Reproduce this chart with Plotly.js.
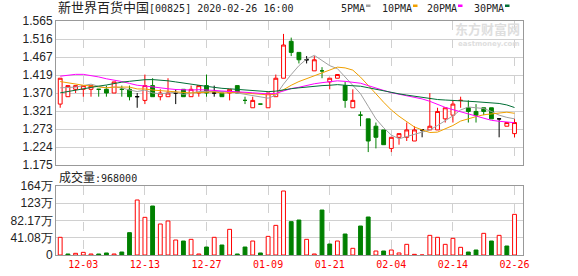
<!DOCTYPE html>
<html><head><meta charset="utf-8">
<script src="https://cdn.plot.ly/plotly-3.0.1.min.js"></script>
<style>html,body{margin:0;padding:0;background:#fff}#chart{width:578px;height:276px}</style>
</head><body><div id="chart"></div>
<script>
// ---------------- data ----------------
const stockName = '新世界百货中国';
const stockCode = '00825';
const stamp = '2020-02-26 16:00';
const dates = ['11-28','11-29','12-02','12-03','12-04','12-05','12-06','12-09','12-10','12-11',
  '12-12','12-13','12-16','12-17','12-18','12-19','12-20','12-23','12-24','12-27',
  '12-30','12-31','01-02','01-03','01-06','01-07','01-08','01-09','01-10','01-13',
  '01-14','01-15','01-16','01-17','01-20','01-21','01-22','01-23','01-24','01-29',
  '01-30','01-31','02-03','02-04','02-05','02-06','02-07','02-10','02-11','02-12',
  '02-13','02-14','02-17','02-18','02-19','02-20','02-21','02-24','02-25','02-26'];
const tickDates = ['12-03','12-13','12-27','01-09','01-21','02-04','02-14','02-26'];
const openP = [1.34,1.36,1.38,1.38,1.38,1.38,1.38,1.37,1.38,1.38,
  1.36,1.35,1.39,1.36,1.36,1.37,1.38,1.36,1.37,1.39,
  1.37,1.37,1.37,1.39,1.35,1.33,1.34,1.33,1.36,1.41,
  1.51,1.48,1.46,1.43,1.43,1.40,1.41,1.39,1.33,1.31,
  1.30,1.28,1.27,1.22,1.25,1.25,1.24,1.27,1.27,1.27,
  1.30,1.31,1.35,1.33,1.32,1.33,1.33,1.30,1.28,1.26];
const highP = [1.41,1.39,1.39,1.39,1.39,1.38,1.39,1.40,1.39,1.39,
  1.37,1.42,1.41,1.38,1.41,1.38,1.38,1.39,1.39,1.42,
  1.39,1.37,1.38,1.39,1.36,1.36,1.34,1.37,1.42,1.53,
  1.52,1.48,1.47,1.47,1.44,1.41,1.42,1.40,1.38,1.32,
  1.30,1.29,1.27,1.25,1.26,1.29,1.28,1.27,1.37,1.33,
  1.33,1.35,1.36,1.35,1.34,1.33,1.33,1.30,1.29,1.30];
const lowP = [1.33,1.36,1.37,1.36,1.36,1.36,1.36,1.37,1.36,1.35,
  1.33,1.34,1.36,1.35,1.36,1.34,1.36,1.36,1.36,1.36,
  1.36,1.36,1.35,1.37,1.34,1.33,1.34,1.33,1.36,1.41,
  1.47,1.45,1.45,1.43,1.41,1.38,1.41,1.33,1.33,1.28,
  1.21,1.22,1.23,1.21,1.23,1.24,1.24,1.25,1.27,1.27,
  1.29,1.29,1.33,1.29,1.29,1.31,1.30,1.25,1.28,1.25];
const closeP = [1.41,1.39,1.39,1.39,1.39,1.38,1.37,1.40,1.38,1.36,
  1.36,1.39,1.36,1.37,1.37,1.37,1.36,1.38,1.39,1.37,
  1.37,1.36,1.38,1.37,1.35,1.35,1.34,1.37,1.41,1.50,
  1.48,1.46,1.46,1.46,1.43,1.41,1.42,1.35,1.35,1.31,
  1.24,1.25,1.23,1.25,1.26,1.27,1.27,1.27,1.28,1.32,
  1.33,1.34,1.35,1.32,1.31,1.32,1.30,1.30,1.29,1.29];
// closes of the 29 sessions before the first candle (estimated from the MA lines)
const priorCloses = [1.27,1.28,1.27,1.28,1.29,1.28,1.27,1.28,1.29,1.29,
  1.33,1.35,1.39,1.45,1.46,1.47,1.46,1.47,1.46,1.46,
  1.43,1.42,1.42,1.41,1.41,1.39,1.38,1.37,1.37];
const volume = [421000,24000,40000,63000,24000,24000,48000,24000,71000,532000,
  1310000,897000,1167000,738000,810000,357000,333000,373000,24000,190000,
  421000,238000,611000,24000,190000,333000,48000,444000,706000,1524000,
  794000,833000,373000,24000,1071000,262000,333000,500000,159000,690000,
  905000,95000,95000,119000,48000,254000,16000,0,468000,421000,
  254000,397000,183000,71000,119000,516000,333000,468000,214000,968000];
const maPeriods = [5,10,20,30];
const maNames = ['5PMA','10PMA','20PMA','30PMA'];
const priceTickLabels = ['1.175','1.224','1.273','1.321','1.370','1.419','1.467','1.516','1.565'];
const priceRange = [1.175,1.565];
const volTickLabels = ['0','41.08万','82.17万','123万','164万'];
const volMax = 1643300;

// ---------------- styles ----------------
const RED='#ff0000', GREEN='#008000', BLACK='#000000';
const maColors = ['#a0a0a0','#f0a000','#ff00ff','#006f35'];
const W=578,H=276,L=56,R=55,T=21,B=21;
const plotW=W-L-R, plotH=H-T-B;
const px2x = p => (p-L)/plotW;
const px2y = p => (H-B-p)/plotH;

const n = closeP.length;
const idx = dates.map((d,i)=>i);
const allCloses = priorCloses.concat(closeP);
const off = priorCloses.length;

// candle colour groups
const group = idx.map(i=>{
  const prev = i>0 ? closeP[i-1] : priorCloses[off-1];
  if (closeP[i] > openP[i]) return 'r';
  if (closeP[i] < openP[i]) return 'g';
  if (closeP[i] > prev) return 'r';
  if (closeP[i] < prev) return 'g';
  return 'k';
});
const volUp = idx.map(i=>{
  const prev = i>0 ? closeP[i-1] : priorCloses[off-1];
  return closeP[i] >= prev;
});

function candle(g, lineColor, fill){
  const sel = idx.filter(i=>group[i]===g);
  return {type:'candlestick', xaxis:'x', yaxis:'y',
    x: sel, open: sel.map(i=>openP[i]), high: sel.map(i=>highP[i]),
    low: sel.map(i=>lowP[i]), close: sel.map(i=>closeP[i]),
    increasing:{line:{color:lineColor,width:1}, fillcolor:fill},
    decreasing:{line:{color:lineColor,width:1}, fillcolor:fill},
    whiskerwidth:0, hoverinfo:'skip', showlegend:false};
}
const traces = [
  candle('r', RED, '#ffffff'),
  candle('g', GREEN, GREEN),
  candle('k', BLACK, BLACK)
];
maPeriods.forEach((p,k)=>{
  const y = idx.map(i=>{
    let s=0; for(let j=i+off-p+1;j<=i+off;j++) s+=allCloses[j];
    return s/p;
  });
  traces.push({type:'scatter', mode:'lines', xaxis:'x', yaxis:'y', x: idx, y: y,
    line:{color:maColors[k], width:1}, hoverinfo:'skip', showlegend:false});
});
const upSel = idx.filter(i=>volUp[i]);
const dnSel = idx.filter(i=>!volUp[i]);
traces.push({type:'bar', xaxis:'x2', yaxis:'y2', x: upSel, y: upSel.map(i=>volume[i]),
  width:0.5, marker:{color:'#ffffff', line:{color:RED,width:1}}, hoverinfo:'skip', showlegend:false});
traces.push({type:'bar', xaxis:'x2', yaxis:'y2', x: dnSel, y: dnSel.map(i=>volume[i]),
  width:0.5, marker:{color:GREEN, line:{color:GREEN,width:1}}, hoverinfo:'skip', showlegend:false});

const tickIdx = tickDates.map(d=>dates.indexOf(d));
const xRange = [-0.545, 60.1];
const priceTicks = priceTickLabels.map((t,k)=>Math.round((priceRange[0]+k*(priceRange[1]-priceRange[0])/(priceTickLabels.length-1))*1e6)/1e6);
const volTicks = volTickLabels.map((t,k)=>Math.round(k*volMax/(volTickLabels.length-1)));

const tickFont = {family:'Liberation Sans, Arial, sans-serif', size:12, color:'#222'};
const monoCJK = 'DejaVu Sans Mono, Noto Sans CJK SC, monospace';
const axisCommon = {showgrid:true, gridcolor:'#d0d0d0', gridwidth:1, zeroline:false,
  showline:true, mirror:true, linecolor:'#999', linewidth:1, ticks:'', fixedrange:true};

const annotations = [
  {xref:'paper', yref:'paper', x:px2x(56), y:px2y(8), xanchor:'left', yanchor:'middle', showarrow:false,
   text:'<span style="font-size:13px">'+stockName+'</span>['+stockCode+'] '+stamp,
   font:{family:monoCJK, size:10, color:'#222'}},
  {xref:'paper', yref:'paper', x:px2x(57), y:px2y(177), xanchor:'left', yanchor:'middle', showarrow:false,
   text:'<span style="font-size:12px">成交量</span>:'+volume[n-1],
   font:{family:monoCJK, size:10, color:'#222'}},
  {xref:'paper', yref:'paper', x:px2x(522), y:px2y(29), xanchor:'right', yanchor:'middle', showarrow:false,
   text:'<b>东方财富网</b>', font:{family:'Noto Sans CJK SC', size:13, color:'#dedede'}},
  {xref:'paper', yref:'paper', x:px2x(522), y:px2y(44), xanchor:'right', yanchor:'middle', showarrow:false,
   text:'<b>eastmoney.com</b>', font:{family:'DejaVu Sans', size:7, color:'#dedede'}}
];
const legendStarts = [339,380,425,472];
const shapes = [];
maNames.forEach((nm,k)=>{
  annotations.push({xref:'paper', yref:'paper', x:px2x(legendStarts[k]), y:px2y(9), xanchor:'left', yanchor:'middle',
    showarrow:false, text:nm, font:{family:monoCJK, size:10, color:'#222'}});
  const mx = legendStarts[k] + nm.length*6 + 3;
  shapes.push({type:'rect', xref:'paper', yref:'paper', x0:px2x(mx), x1:px2x(mx+4.5), y0:px2y(7), y1:px2y(4.5),
    line:{width:0}, fillcolor:maColors[k]});
});

const layout = {
  width:W, height:H, margin:{l:L,r:R,t:T,b:B}, paper_bgcolor:'#fff', plot_bgcolor:'#fff',
  showlegend:false, hovermode:false, boxgap:0.5, boxgroupgap:0, barmode:'overlay',
  xaxis: Object.assign({}, axisCommon, {anchor:'y', range:xRange, tickmode:'array', tickvals:tickIdx,
    ticktext:tickDates, showticklabels:false, griddash:'dash', rangeslider:{visible:false}}),
  xaxis2: Object.assign({}, axisCommon, {anchor:'y2', range:xRange, tickmode:'array', tickvals:tickIdx,
    ticktext:tickDates, showticklabels:true, griddash:'dash',
    tickfont:{family:monoCJK, size:10, color:RED}}),
  yaxis: Object.assign({}, axisCommon, {domain:[px2y(165),1], range:priceRange, tickmode:'array',
    tickvals:priceTicks, ticktext:priceTickLabels, tickfont:tickFont}),
  yaxis2: Object.assign({}, axisCommon, {domain:[0,px2y(186)], range:[0,volMax], tickmode:'array',
    tickvals:volTicks, ticktext:volTickLabels, tickfont:tickFont}),
  annotations: annotations, shapes: shapes
};
Plotly.newPlot('chart', traces, layout, {staticPlot:true, displayModeBar:false});
</script></body></html>
